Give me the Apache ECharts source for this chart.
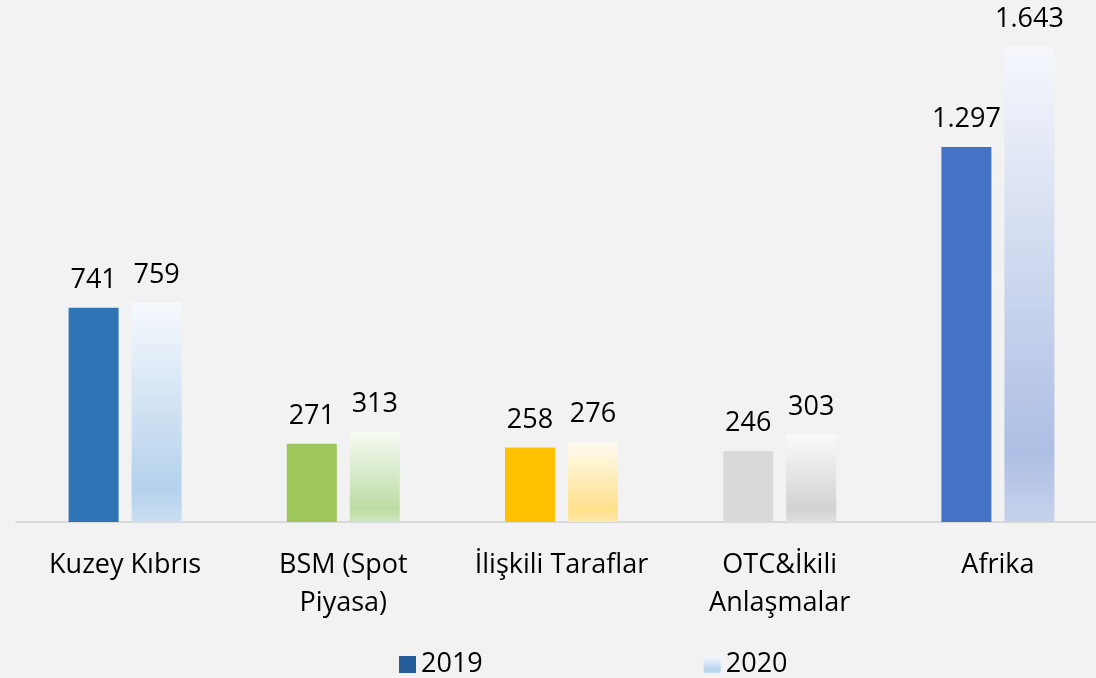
<!DOCTYPE html>
<html>
<head>
<meta charset="utf-8">
<script src="https://cdn.jsdelivr.net/npm/echarts@6/dist/echarts.min.js"></script>
<style>
html,body{margin:0;padding:0;background:#f2f2f2;overflow:hidden;}
#chart{width:1107px;height:678px;}
</style>
</head>
<body>
<div id="chart"></div>
<script>
// veriler
var categories = ['Kuzey Kıbrıs', 'BSM (Spot\nPiyasa)', 'İlişkili Taraflar', 'OTC&İkili\nAnlaşmalar', 'Afrika'];
var values2019 = [741, 271, 258, 246, 1297];
var values2020 = [759, 313, 276, 303, 1643];
var colors2019 = ['#2e75b6', '#9dc65b', '#ffc000', '#d9d9d9', '#4472c4'];
var colors2020 = ['#b4d1ec', '#bcdca4', '#ffe08a', '#d2d2d2', '#aebfe4'];

// renk ile beyazı karıştır
function mix(c, t) {
	var r = parseInt(c.substr(1, 2), 16), g = parseInt(c.substr(3, 2), 16), b = parseInt(c.substr(5, 2), 16);
	return 'rgb(' + Math.round(r + (255 - r) * t) + ',' + Math.round(g + (255 - g) * t) + ',' + Math.round(b + (255 - b) * t) + ')';
}
function grad(c) {
	return new echarts.graphic.LinearGradient(0, 0, 0, 1, [
		{offset: 0, color: mix(c, 0.88)},
		{offset: 0.85, color: c},
		{offset: 1, color: mix(c, 0.3)}
	]);
}
function fmt(p) {
	return String(p.value).replace(/\B(?=(\d{3})+(?!\d))/g, '.');
}

var myChart = echarts.init(document.getElementById('chart'));
var font = '"Open Sans", sans-serif';
var option = {
	backgroundColor: '#f2f2f2',
	animation: false,
	textStyle: {fontFamily: font},
	grid: {left: 16, right: 0, top: 47, bottom: 156},
	legend: {
		left: 394, top: 646,
		icon: 'rect',
		itemWidth: 17, itemHeight: 17, itemGap: 221,
		textStyle: {fontSize: 27, color: '#000', fontFamily: font},
		data: [
			{name: '2019', itemStyle: {color: '#255e9a'}},
			{name: '2020', itemStyle: {color: grad('#b4d1ec')}}
		]
	},
	xAxis: {
		type: 'category',
		data: categories,
		axisLine: {lineStyle: {color: '#d9d9d9', width: 2}},
		axisTick: {show: false},
		axisLabel: {fontSize: 27, color: '#000', lineHeight: 38, margin: 24, interval: 0}
	},
	yAxis: {
		type: 'value', min: 0, max: 'dataMax', show: false,
		splitLine: {show: false}
	},
	series: [
		{
			name: '2019', type: 'bar', barWidth: 50, barGap: '26%',
			data: values2019.map(function (v, i) {
				return {value: v, itemStyle: {color: colors2019[i]}};
			}),
			label: {show: true, position: 'top', distance: 14, fontSize: 27, color: '#000', formatter: fmt}
		},
		{
			name: '2020', type: 'bar', barWidth: 50,
			data: values2020.map(function (v, i) {
				return {value: v, itemStyle: {color: grad(colors2020[i])}};
			}),
			label: {show: true, position: 'top', distance: 14, fontSize: 27, color: '#000', formatter: fmt}
		}
	]
};
myChart.setOption(option);
</script>
</body>
</html>
